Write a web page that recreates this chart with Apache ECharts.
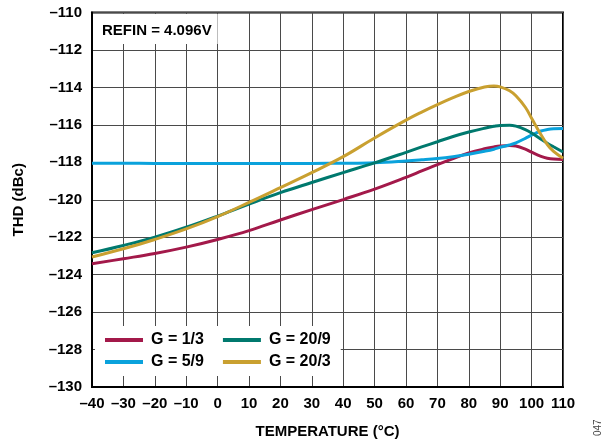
<!DOCTYPE html>
<html>
<head>
<meta charset="utf-8">
<script src="https://cdn.jsdelivr.net/npm/echarts@6/dist/echarts.min.js"></script>
<style>html,body{margin:0;padding:0;background:#fff}#c{width:614px;height:444px}</style>
</head>
<body>
<div id="c"></div>
<script>
const temps = [-40,-30,-20,-10,0,10,20,30,40,50,60,65,70,75,80,85,88,90,93,95,98,100,103,105,107,110];
const g13  = [-123.42,-123.15,-122.87,-122.53,-122.12,-121.65,-121.08,-120.53,-119.99,-119.43,-118.8,-118.46,-118.12,-117.8,-117.5,-117.28,-117.18,-117.13,-117.1,-117.13,-117.3,-117.46,-117.68,-117.78,-117.83,-117.85];
const g59  = [-118.05,-118.05,-118.06,-118.06,-118.07,-118.07,-118.07,-118.06,-118.05,-118.02,-117.93,-117.87,-117.8,-117.7,-117.57,-117.41,-117.3,-117.2,-117.07,-116.96,-116.72,-116.55,-116.33,-116.25,-116.21,-116.2];
const g209 = [-122.83,-122.44,-122.0,-121.47,-120.87,-120.23,-119.62,-119.08,-118.55,-118.03,-117.47,-117.18,-116.9,-116.62,-116.38,-116.18,-116.08,-116.03,-116.02,-116.07,-116.25,-116.44,-116.77,-116.98,-117.17,-117.45];
const g203 = [-123.06,-122.62,-122.12,-121.56,-120.9,-120.14,-119.35,-118.55,-117.7,-116.7,-115.75,-115.32,-114.92,-114.55,-114.22,-113.98,-113.92,-113.97,-114.18,-114.45,-115.06,-115.65,-116.53,-117.05,-117.42,-117.78];
const seriesNames = ['G = 1/3','G = 5/9','G = 20/9','G = 20/3'];
const colors = ['#A3194A','#0AA2DC','#00796E','#C9A030'];

const font = 'Liberation Sans, Arial, sans-serif';
const fmt = v => String(v).replace('-', '\u2013');
const pair = (ys) => temps.map((t,i)=>[t, ys[i]]);
const allData = [g13, g59, g209, g203];

const chart = echarts.init(document.getElementById('c'), null, {renderer:'canvas'});
const legendCommon = {
  orient:'horizontal', itemWidth:38, itemHeight:4, itemGap:19, icon:'rect',
  backgroundColor:'#fff', selectedMode:false,
  textStyle:{fontFamily:font, fontWeight:'bold', fontSize:16, color:'#000', padding:[0,0,0,3]}
};
chart.setOption({
  animation:false,
  color: colors,
  title:{
    text:'REFIN = 4.096V', left:94, top:14, backgroundColor:'#fff',
    padding:[9,6,6,8],
    textStyle:{fontFamily:font, fontWeight:'bold', fontSize:15, color:'#000'}
  },
  grid:{left:92, right:51, top:12.5, bottom:56, show:true, borderColor:'#000', borderWidth:2},
  legend:[
    Object.assign({data:[seriesNames[0], seriesNames[2]], left:95, top:326, padding:[6,10,3,10]}, legendCommon),
    Object.assign({data:[seriesNames[1], seriesNames[3]], left:95, top:351, padding:[3,10,6,10]}, legendCommon)
  ],
  xAxis:{
    type:'value', min:-40, max:110, interval:10,
    name:'TEMPERATURE (\u00B0C)', nameLocation:'middle', nameGap:37,
    nameTextStyle:{fontFamily:font, fontWeight:'bold', fontSize:15, color:'#000'},
    axisLine:{show:true, onZero:false, lineStyle:{color:'#000', width:2}},
    axisTick:{show:false},
    axisLabel:{margin:9, fontFamily:font, fontWeight:'bold', fontSize:15, color:'#000', formatter:fmt},
    splitLine:{show:true, lineStyle:{color:'#4a4a4a', width:1}}
  },
  yAxis:{
    type:'value', min:-130, max:-110, interval:2,
    name:'THD (dBc)', nameLocation:'middle', nameGap:66,
    nameTextStyle:{fontFamily:font, fontWeight:'bold', fontSize:15, color:'#000'},
    axisLine:{show:true, onZero:false, lineStyle:{color:'#000', width:2}},
    axisTick:{show:false},
    axisLabel:{margin:10, fontFamily:font, fontWeight:'bold', fontSize:15, color:'#000', formatter:fmt},
    splitLine:{show:true, lineStyle:{color:'#4a4a4a', width:1}}
  },
  graphic:[{
    type:'text', x:598, y:436, rotation:Math.PI/2,
    style:{text:'047', fontFamily:font, fontSize:10, fill:'#444', textAlign:'left', textVerticalAlign:'middle'}
  }],
  series: allData.map((d,i)=>({
    name:seriesNames[i], type:'line', data:pair(d), smooth:0.4, showSymbol:false,
    lineStyle:{width:3, color:colors[i]}, itemStyle:{color:colors[i]}
  }))
});
</script>
</body>
</html>
